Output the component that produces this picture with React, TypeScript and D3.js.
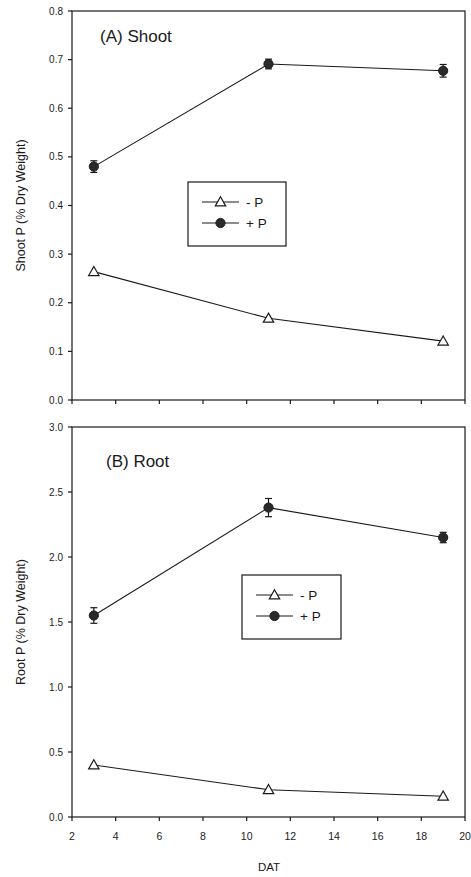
import React from "react";
import * as d3 from "d3";

const days = [3, 11, 19];
const shootMinusP = [0.264, 0.168, 0.121];
const shootPlusP = [0.48, 0.691, 0.677];
const shootPlusErr = [0.012, 0.01, 0.013];
const rootMinusP = [0.4, 0.21, 0.16];
const rootPlusP = [1.55, 2.38, 2.15];
const rootPlusErr = [0.06, 0.07, 0.04];
const xTicks = [2, 4, 6, 8, 10, 12, 14, 16, 18, 20];
const shootTicks = [0, 0.1, 0.2, 0.3, 0.4, 0.5, 0.6, 0.7, 0.8];
const rootTicks = [0, 0.5, 1.0, 1.5, 2.0, 2.5, 3.0];
const legendLabels = ["- P", "+ P"];

const FONT = "Liberation Sans, Arial, sans-serif";
const INK = "#1a1a1a";

type PanelProps = {
  top: number;
  bottom: number;
  yMax: number;
  yTicks: number[];
  minus: number[];
  plus: number[];
  plusErr: number[];
  title: string;
  titleX: number;
  titleY: number;
  yLabel: string;
  showXLabels: boolean;
  legend: { x: number; y: number; w: number; h: number };
};

const x = d3.scaleLinear().domain([2, 20]).range([72, 465]);

function Triangle({ cx, cy }: { cx: number; cy: number }) {
  const s = 5.2;
  const p = `M${cx},${cy - s} L${cx + s},${cy + s * 0.75} L${cx - s},${cy + s * 0.75} Z`;
  return <path d={p} fill="white" stroke={INK} strokeWidth={1.2} />;
}

function Panel(p: PanelProps) {
  const y = d3.scaleLinear().domain([0, p.yMax]).range([p.bottom, p.top]);
  const line = d3
    .line<number>()
    .x((_, i) => x(days[i]))
    .y((d) => y(d));
  const L = p.legend;
  return (
    <g>
      <rect x={72} y={p.top} width={465 - 72} height={p.bottom - p.top} fill="none" stroke={INK} strokeWidth={1.2} />
      {xTicks.map((t) => (
        <g key={"x" + t}>
          <line x1={x(t)} x2={x(t)} y1={p.bottom} y2={p.bottom + 4} stroke={INK} strokeWidth={1.2} />
          {p.showXLabels && (
            <text x={x(t)} y={p.bottom + 23} textAnchor="middle" fontSize={10.5} fontFamily={FONT} fill={INK}>
              {t}
            </text>
          )}
        </g>
      ))}
      {p.yTicks.map((t) => (
        <g key={"y" + t}>
          <line x1={68} x2={72} y1={y(t)} y2={y(t)} stroke={INK} strokeWidth={1.2} />
          <text x={63} y={y(t) + 3.5} textAnchor="end" fontSize={10} fontFamily={FONT} fill={INK}>
            {t.toFixed(1)}
          </text>
        </g>
      ))}
      <text
        transform={`translate(25,${(p.top + p.bottom) / 2}) rotate(-90)`}
        textAnchor="middle"
        fontSize={12.5}
        fontFamily={FONT}
        fill={INK}
      >
        {p.yLabel}
      </text>
      <text x={p.titleX} y={p.titleY} fontSize={17} fontFamily={FONT} fill={INK}>
        {p.title}
      </text>
      <path d={line(p.plus) || ""} fill="none" stroke={INK} strokeWidth={1.1} />
      <path d={line(p.minus) || ""} fill="none" stroke={INK} strokeWidth={1.1} />
      {p.plus.map((v, i) => (
        <g key={"e" + i}>
          <line x1={x(days[i])} x2={x(days[i])} y1={y(v - p.plusErr[i])} y2={y(v + p.plusErr[i])} stroke={INK} strokeWidth={1.2} />
          <line x1={x(days[i]) - 3.5} x2={x(days[i]) + 3.5} y1={y(v - p.plusErr[i])} y2={y(v - p.plusErr[i])} stroke={INK} strokeWidth={1.2} />
          <line x1={x(days[i]) - 3.5} x2={x(days[i]) + 3.5} y1={y(v + p.plusErr[i])} y2={y(v + p.plusErr[i])} stroke={INK} strokeWidth={1.2} />
          <circle cx={x(days[i])} cy={y(v)} r={4.6} fill="#2a2a2a" stroke={INK} />
        </g>
      ))}
      {p.minus.map((v, i) => (
        <Triangle key={"t" + i} cx={x(days[i])} cy={y(v)} />
      ))}
      <rect x={L.x} y={L.y} width={L.w} height={L.h} fill="white" stroke={INK} strokeWidth={1.2} />
      {legendLabels.map((lab, i) => {
        const cy = L.y + 20 + i * 21;
        const lx0 = L.x + 14;
        const lx1 = L.x + 51;
        const mx = (lx0 + lx1) / 2;
        return (
          <g key={lab}>
            <line x1={lx0} x2={lx1} y1={cy} y2={cy} stroke={INK} strokeWidth={1.1} />
            {i === 0 ? <Triangle cx={mx} cy={cy} /> : <circle cx={mx} cy={cy} r={4.6} fill="#2a2a2a" stroke={INK} />}
            <text x={L.x + 58} y={cy + 5} fontSize={13.5} fontFamily={FONT} fill={INK}>
              {lab}
            </text>
          </g>
        );
      })}
    </g>
  );
}

export default function App() {
  return (
    <svg width={471} height={877} style={{ position: "absolute", left: 0, top: 0, background: "white" }}>
      <rect width={471} height={877} fill="white" />
      <Panel
        top={11}
        bottom={400}
        yMax={0.8}
        yTicks={shootTicks}
        minus={shootMinusP}
        plus={shootPlusP}
        plusErr={shootPlusErr}
        title="(A) Shoot"
        titleX={100}
        titleY={42}
        yLabel="Shoot P (% Dry Weight)"
        showXLabels={false}
        legend={{ x: 188, y: 182, w: 98, h: 64 }}
      />
      <Panel
        top={427}
        bottom={817}
        yMax={3.0}
        yTicks={rootTicks}
        minus={rootMinusP}
        plus={rootPlusP}
        plusErr={rootPlusErr}
        title="(B) Root"
        titleX={106}
        titleY={467}
        yLabel="Root P (% Dry Weight)"
        showXLabels={true}
        legend={{ x: 242, y: 575, w: 99, h: 64 }}
      />
      <text x={269} y={871} textAnchor="middle" fontSize={11.5} fontFamily={FONT} fill={INK}>
        DAT
      </text>
    </svg>
  );
}
